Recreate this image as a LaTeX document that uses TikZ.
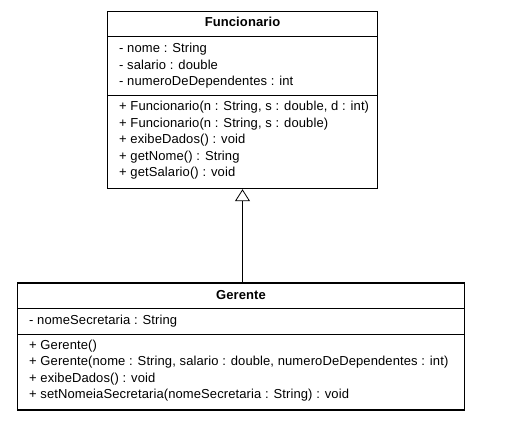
\documentclass[tikz,border=0pt]{standalone}
\usepackage{fontspec}
\setmainfont{Liberation Sans}[LetterSpace=0.8]
\usetikzlibrary{arrows.meta}
\begin{document}
\begin{tikzpicture}[x=1pt,y=-1pt,
  box/.style={draw,line width=1.4pt,inner sep=0pt},
  sep/.style={line width=0.8pt},
  member/.style={anchor=west,inner sep=0pt,text height=9pt,text depth=2.6pt,font=\fontsize{13}{15}\selectfont},
  title/.style={inner sep=0pt,text height=9pt,text depth=2.6pt,font=\fontsize{13}{15}\selectfont\bfseries},
  inherit/.style={line width=0.8pt,-{Triangle[open,length=12pt,width=15pt,line width=0.8pt]}}]
\useasboundingbox (0,0) rectangle (517,427);
% Funcionario
\node[box,minimum width=270pt,minimum height=177pt] (func) at (242.5,100) {};
\draw[sep] (107.5,36) -- (377.5,36);
\draw[sep] (107.5,95) -- (377.5,95);
\node[title] (ft) at (242.5,23.5) {Funcionario};
\node[member] (f1) at (119,49.5) {- nome : String};
\node[member] (f2) at (119,66) {- salario : double};
\node[member] (f3) at (119,82.5) {- numeroDeDependentes : int};
\node[member] (f4) at (119,107.5) {+ Funcionario(n : String, s : double, d : int)};
\node[member] (f5) at (119,124) {+ Funcionario(n : String, s : double)};
\node[member] (f6) at (119,140.5) {+ exibeDados() : void};
\node[member] (f7) at (119,157) {+ getNome() : String};
\node[member] (f8) at (119,173.5) {+ getSalario() : void};
% Gerente
\node[box,minimum width=447pt,minimum height=127pt] (ger) at (241,346.5) {};
\draw[sep] (17.5,308.5) -- (464.5,308.5);
\draw[sep] (17.5,334) -- (464.5,334);
\node[title] (gt) at (241,296.5) {Gerente};
\node[member] (g1) at (29,321.5) {- nomeSecretaria : String};
\node[member] (g2) at (29,346) {+ Gerente()};
\node[member] (g3) at (29,362.5) {+ Gerente(nome : String, salario : double, numeroDeDependentes : int)};
\node[member] (g4) at (29,379) {+ exibeDados() : void};
\node[member] (g5) at (29,395.5) {+ setNomeiaSecretaria(nomeSecretaria : String) : void};
% inheritance
\draw[inherit] (ger.north -| func.south) -- (func.south);
\end{tikzpicture}
\end{document}
